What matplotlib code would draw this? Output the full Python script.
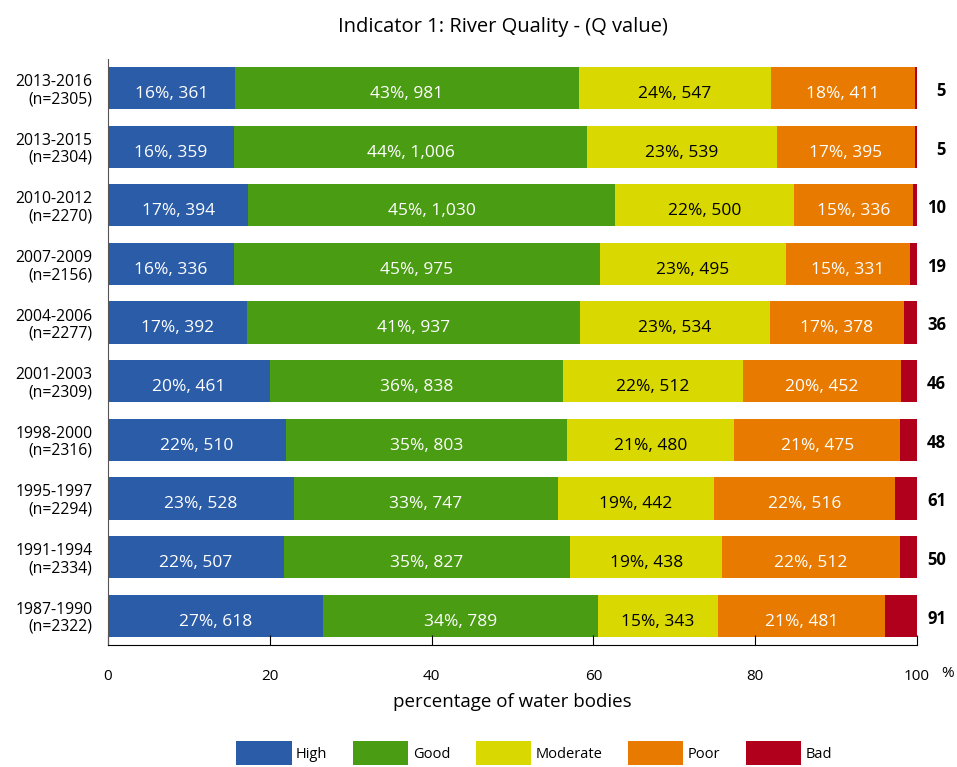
import matplotlib
matplotlib.use("Agg")
import matplotlib.pyplot as plt
import numpy as np
from matplotlib.patches import Patch

plt.rcParams["font.family"] = ["Open Sans", "DejaVu Sans"]

# Data, top bar first
periods = ["2013-2016", "2013-2015", "2010-2012", "2007-2009", "2004-2006",
           "2001-2003", "1998-2000", "1995-1997", "1991-1994", "1987-1990"]
n_bodies = [2305, 2304, 2270, 2156, 2277, 2309, 2316, 2294, 2334, 2322]
high = [361, 359, 394, 336, 392, 461, 510, 528, 507, 618]
good = [981, 1006, 1030, 975, 937, 838, 803, 747, 827, 789]
moderate = [547, 539, 500, 495, 534, 512, 480, 442, 438, 343]
poor = [411, 395, 336, 331, 378, 452, 475, 516, 512, 481]
bad = [5, 5, 10, 19, 36, 46, 48, 61, 50, 91]

classes = ["High", "Good", "Moderate", "Poor", "Bad"]
colors = ["#2b5ca8", "#4a9c12", "#d9d800", "#e87a00", "#b0001c"]
text_colors = ["white", "white", "black", "white", None]

counts = np.array([high, good, moderate, poor, bad], dtype=float)
n_arr = np.array(n_bodies, dtype=float)
pct = counts / n_arr * 100

fig = plt.figure(figsize=(9.57, 7.67), dpi=100)
ax = fig.add_axes([108 / 957, 1 - 645 / 767, 809 / 957, (645 - 58.7) / 767])

y = np.arange(len(periods))
left = np.zeros(len(periods))
for k, cls in enumerate(classes):
    ax.barh(y, pct[k], left=left, height=0.72, color=colors[k], label=cls)
    if text_colors[k] is not None:
        for i in range(len(periods)):
            ax.text(left[i] + pct[k][i] / 2, y[i] + 0.1,
                    f"{round(pct[k][i]):.0f}%, {int(counts[k][i]):,}",
                    ha="center", va="center", fontsize=12.5,
                    color=text_colors[k])
    left += pct[k]

# bad counts to the right of the bars
for i in range(len(periods)):
    ax.text(103.6, y[i] + 0.05, f"{bad[i]}", ha="right", va="center",
            fontsize=12, fontweight="bold", clip_on=False)

ax.set_xlim(0, 100)
ax.set_ylim(len(periods) - 0.5, -0.5)
ax.set_yticks(y)
ax.set_yticklabels([f"{p}\n(n={n})" for p, n in zip(periods, n_bodies)],
                   fontsize=11.3, multialignment="right", linespacing=1.1)
ax.tick_params(axis="y", length=0, pad=11)
ax.set_xticks([0, 20, 40, 60, 80, 100])
ax.tick_params(axis="x", direction="in", length=7, pad=17, labelsize=11)
ax.set_xlabel("percentage of water bodies", fontsize=13.5, labelpad=7)
ax.text(103.8, -0.035, "%", transform=ax.get_xaxis_transform(),
        fontsize=11, ha="center", va="top", clip_on=False)

for s in ["top", "right"]:
    ax.spines[s].set_visible(False)
ax.spines["left"].set_color("#555555")

fig.text(503 / 957, 1 - 27 / 767, "Indicator 1: River Quality - (Q value)",
         ha="center", va="center", fontsize=14.5)

handles = [Patch(facecolor=c) for c in colors]
fig.legend(handles, classes, loc="center", ncol=5,
           bbox_to_anchor=(534 / 957, 1 - 753 / 767), frameon=False,
           fontsize=10.5, handlelength=3.8, handleheight=2.1,
           handletextpad=0.3, columnspacing=1.75)

fig.savefig("out.png", dpi=100)
